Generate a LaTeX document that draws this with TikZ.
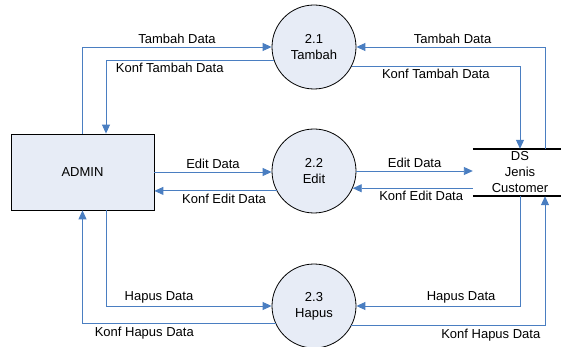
\documentclass[tikz,border=0pt]{standalone}
\usepackage{fontspec}
\setmainfont{Liberation Sans}
\usetikzlibrary{positioning,arrows.meta,calc}

\definecolor{flowblue}{RGB}{74,126,193}
\definecolor{procfill}{RGB}{231,236,246}

\begin{document}
\begin{tikzpicture}[x=1pt, y=-1pt,
	font=\fontsize{13}{16}\selectfont,
	>={Triangle[length=9pt,width=8pt]},
	flow/.style={color=flowblue, line width=0.9pt, ->},
	proc/.style={circle, draw=black, fill=procfill, line width=0.8pt, minimum size=84pt, inner sep=0pt, align=center},
	lbl/.style={text=black, inner sep=2.5pt}]

\useasboundingbox (0,0) rectangle (561,347);

% processes
\node[proc] (p1) at (314,47) {2.1\\Tambah};
\node[proc] (p2) at (314,171) {2.2\\Edit};
\node[proc] (p3) at (314,306) {2.3\\Hapus};

% external entity
\node[draw=black, fill=procfill, line width=0.8pt, minimum width=143pt, minimum height=76pt] (admin) at (82.5,172) {ADMIN};

% data store
\node[minimum width=94pt, minimum height=47pt, inner sep=0pt, align=center] (ds) at (520,172.5) {DS\\Jenis\\Customer};
\draw[line width=1.6pt] (ds.north west) -- (ds.north east) (ds.south west) -- (ds.south east);

% tambah
\draw[flow] (admin.north) |- node[lbl, above, pos=0.75] {Tambah Data} (p1);
\draw[flow] (p1.198) -| node[lbl, below, pos=0.31] {Konf Tambah Data} ([xshift=23.5pt]admin.north);
\draw[flow] ([xshift=25pt]ds.north) |- node[lbl, above, pos=0.745] {Tambah Data} (p1);
\draw[flow] (p1.333) -| node[lbl, below, pos=0.25] {Konf Tambah Data} (ds.north);

% edit
\draw[flow] (admin.east) -- node[lbl, above] {Edit Data} (admin.east -| p2.west);
\draw[flow] (p2.208) -- node[lbl, below, pos=0.43] {Konf Edit Data} (p2.208 -| admin.east);
\draw[flow] (p2.east) -- node[lbl, above] {Edit Data} (p2.east -| ds.west);
\draw[flow] (p2.336 -| ds.west) -- node[lbl, below, pos=0.43] {Konf Edit Data} (p2.336);

% hapus
\draw[flow] ([xshift=23.5pt]admin.south) |- node[lbl, above, pos=0.66] {Hapus Data} (p3);
\draw[flow] (p3.205) -| node[lbl, below, pos=0.34] {Konf Hapus Data} (admin.south);
\draw[flow] (ds.south) |- node[lbl, above, pos=0.68] {Hapus Data} (p3);
\draw[flow] (p3.332) -| node[lbl, below, pos=0.36] {Konf Hapus Data} ([xshift=25pt]ds.south);

\end{tikzpicture}
\end{document}
